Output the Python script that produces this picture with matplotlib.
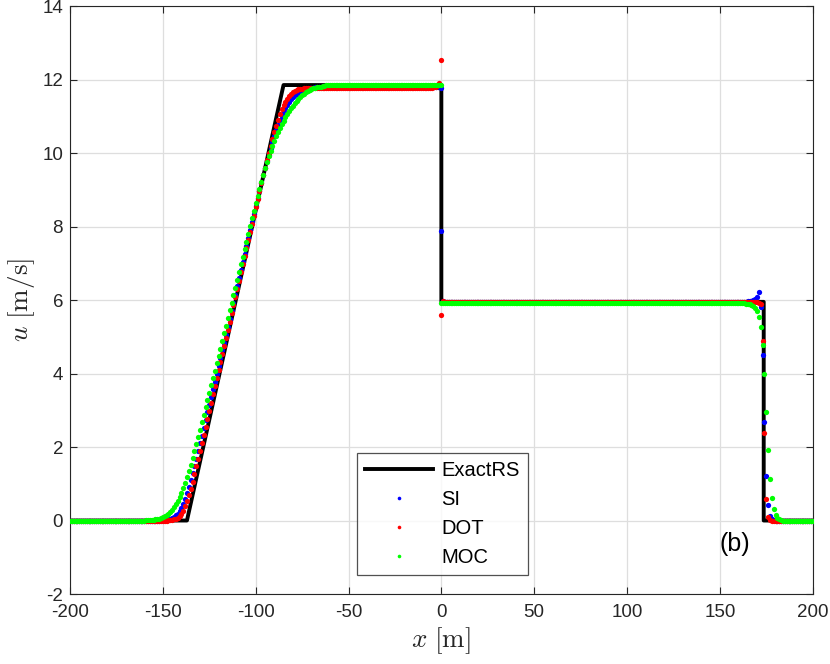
import numpy as np
import matplotlib
matplotlib.use("Agg")
import matplotlib.pyplot as plt
from matplotlib.lines import Line2D

plt.rcParams["font.family"] = ["Liberation Sans", "DejaVu Sans"]
plt.rcParams["mathtext.fontset"] = "cm"
plt.rcParams["axes.unicode_minus"] = False

# --- exact Riemann solution ----------------------------------------------
exact_x = [-200, -137, -85, 0, 0, 173.6, 173.6, 200]
exact_u = [0.0, 0.0, 11.85, 11.85, 5.95, 5.95, 0.0, 0.0]

# --- numerical solutions, 1 m nodes, pipe 1 = [-200, 0], pipe 2 = [0, 200]
# rarefaction: first node of the ramp and the nodal values from there on
si_ramp_x0 = -152
si_ramp = [0.00, 0.01, 0.01, 0.02, 0.02, 0.03, 0.05, 0.07, 0.10, 0.14,
           0.19, 0.26, 0.34, 0.44, 0.58, 0.74, 0.91, 1.09, 1.28, 1.48,
           1.68, 1.89, 2.10, 2.31, 2.52, 2.73, 2.94, 3.15, 3.36, 3.57,
           3.78, 4.00, 4.21, 4.42, 4.63, 4.84, 5.05, 5.27, 5.49, 5.71,
           5.93, 6.15, 6.37, 6.59, 6.81, 7.03, 7.25, 7.47, 7.69, 7.91,
           8.12, 8.34, 8.56, 8.77, 8.98, 9.19, 9.39, 9.59, 9.78, 9.96,
           10.14, 10.31, 10.47, 10.62, 10.76, 10.89, 11.01, 11.12, 11.22, 11.31,
           11.39, 11.46, 11.52, 11.57, 11.61, 11.65, 11.68, 11.70, 11.72, 11.74,
           11.75, 11.76, 11.77, 11.78, 11.79]
dot_ramp_x0 = -148
dot_ramp = [0.00, 0.01, 0.01, 0.02, 0.03, 0.05, 0.08, 0.12, 0.18, 0.27,
            0.39, 0.53, 0.69, 0.87, 1.06, 1.26, 1.47, 1.68, 1.90, 2.11,
            2.33, 2.55, 2.77, 2.99, 3.21, 3.43, 3.65, 3.87, 4.09, 4.31,
            4.53, 4.75, 4.97, 5.19, 5.41, 5.64, 5.86, 6.08, 6.30, 6.52,
            6.75, 6.97, 7.19, 7.41, 7.63, 7.86, 8.08, 8.30, 8.52, 8.75,
            8.97, 9.19, 9.40, 9.60, 9.80, 10.00, 10.19, 10.38, 10.56, 10.74,
            10.91, 11.06, 11.19, 11.30, 11.40, 11.48, 11.55, 11.61, 11.65, 11.68,
            11.71, 11.73, 11.74, 11.75, 11.76]
moc_ramp_x0 = -160
moc_ramp = [0.00, 0.01, 0.01, 0.01, 0.02, 0.02, 0.03, 0.04, 0.05, 0.07,
            0.09, 0.11, 0.14, 0.18, 0.23, 0.29, 0.36, 0.44, 0.53, 0.64,
            0.76, 0.89, 1.03, 1.18, 1.34, 1.51, 1.69, 1.88, 2.07, 2.27,
            2.47, 2.68, 2.88, 3.08, 3.28, 3.48, 3.68, 3.88, 4.08, 4.28,
            4.48, 4.68, 4.88, 5.09, 5.30, 5.51, 5.72, 5.92, 6.13, 6.34,
            6.55, 6.76, 6.97, 7.17, 7.38, 7.59, 7.80, 8.01, 8.22, 8.42,
            8.63, 8.83, 9.03, 9.22, 9.40, 9.58, 9.75, 9.91, 10.06, 10.20,
            10.33, 10.45, 10.57, 10.68, 10.78, 10.88, 10.97, 11.06, 11.14, 11.22,
            11.29, 11.36, 11.42, 11.48, 11.53, 11.58, 11.62, 11.66, 11.69, 11.72,
            11.74, 11.76, 11.78, 11.79, 11.80, 11.81, 11.82, 11.83]

# plateau levels behind the rarefaction and behind the shock
si_upper, dot_upper, moc_upper = 11.80, 11.77, 11.84
si_lower, dot_lower, moc_lower = 5.95, 5.95, 5.93

# last nodes of pipe 1 (ending at x = 0)
si_end = [11.82, 11.76]
dot_end = [11.79, 11.81, 11.84, 11.90, 12.53]
moc_end = [11.85]

# first nodes of pipe 2 (starting at x = 0)
si_start = [7.88, 5.96]
dot_start = [5.59, 5.97]
moc_start = [5.93]

# shock: first node and nodal values from there on
si_shock_x0 = 165
si_shock = [5.96, 5.97, 5.98, 6.00, 6.03, 6.09, 6.22, 5.80, 4.51, 2.69,
            1.21, 0.42, 0.13, 0.04, 0.01]
dot_shock_x0 = 169
dot_shock = [5.95, 5.94, 5.93, 5.89, 4.89, 2.37, 0.58, 0.10, 0.02]
moc_shock_x0 = 161
moc_shock = [5.92, 5.91, 5.91, 5.90, 5.89, 5.88, 5.86, 5.83, 5.78, 5.71,
             5.55, 5.27, 4.78, 3.99, 2.96, 1.92, 1.12, 0.60, 0.30, 0.15,
             0.07, 0.03, 0.01]


def assemble(ramp_x0, ramp, upper, end, start, lower, shock_x0, shock):
    x1 = np.arange(-200, 1)
    u1 = np.full(x1.size, upper)
    u1[x1 < ramp_x0] = 0.0
    i0 = ramp_x0 + 200
    u1[i0:i0 + len(ramp)] = ramp
    u1[x1.size - len(end):] = end
    x2 = np.arange(0, 201)
    u2 = np.full(x2.size, lower)
    u2[:len(start)] = start
    u2[x2 >= shock_x0] = 0.0
    u2[shock_x0:shock_x0 + len(shock)] = shock
    return np.concatenate([x1, x2]), np.concatenate([u1, u2])


si_x, si_u = assemble(si_ramp_x0, si_ramp, si_upper, si_end, si_start,
                      si_lower, si_shock_x0, si_shock)
dot_x, dot_u = assemble(dot_ramp_x0, dot_ramp, dot_upper, dot_end, dot_start,
                        dot_lower, dot_shock_x0, dot_shock)
moc_x, moc_u = assemble(moc_ramp_x0, moc_ramp, moc_upper, moc_end, moc_start,
                        moc_lower, moc_shock_x0, moc_shock)

# --- figure ---------------------------------------------------------------
fig = plt.figure(figsize=(8.3, 6.64), dpi=100)
ax = fig.add_axes([0.0843, 0.1054, 0.8949, 0.8855])

ax.plot(exact_x, exact_u, color="black", lw=2.8, zorder=2)
ms = 3.8
ax.plot(si_x, si_u, "o", color="blue", ms=ms, mew=0, zorder=3)
ax.plot(dot_x, dot_u, "o", color="red", ms=ms, mew=0, zorder=4)
ax.plot(moc_x, moc_u, "o", color=(0, 1, 0), ms=ms, mew=0, zorder=5)

ax.set_xlim(-200, 200)
ax.set_ylim(-2, 14)
ax.set_xticks(np.arange(-200, 201, 50))
ax.set_yticks(np.arange(-2, 15, 2))
ax.grid(True, color="#dedede", lw=0.9)
ax.set_axisbelow(True)

dark = "#262626"
for s in ax.spines.values():
    s.set_color(dark)
    s.set_linewidth(0.8)
ax.tick_params(direction="in", top=True, right=True, length=5, width=0.8,
               labelsize=13.5, colors=dark)
ax.tick_params(axis="x", pad=7)
ax.tick_params(axis="y", pad=5)

ax.set_xlabel(r"$x\ [\mathrm{m}]$", fontsize=19.5, color=dark, labelpad=3)
ax.set_ylabel(r"$u\ [\mathrm{m/s}]$", fontsize=19.5, color=dark, labelpad=4)

ax.text(158, -0.65, "(b)", fontsize=18, ha="center", va="center", color="black")

handles = [
    Line2D([], [], color="black", lw=2.8),
    Line2D([], [], ls="none", marker="o", color="blue", ms=2.6, mew=0),
    Line2D([], [], ls="none", marker="o", color="red", ms=2.6, mew=0),
    Line2D([], [], ls="none", marker="o", color=(0, 1, 0), ms=2.6, mew=0),
]
leg = ax.legend(handles, ["ExactRS", "SI", "DOT", "MOC"],
                loc="lower left", bbox_to_anchor=(0.386, 0.032),
                fontsize=14.5, frameon=True, fancybox=False,
                edgecolor=dark, handlelength=3.4, handletextpad=0.4,
                labelspacing=0.5, borderpad=0.4, borderaxespad=0)
leg.get_frame().set_linewidth(0.9)

fig.savefig("out.png", dpi=100)
